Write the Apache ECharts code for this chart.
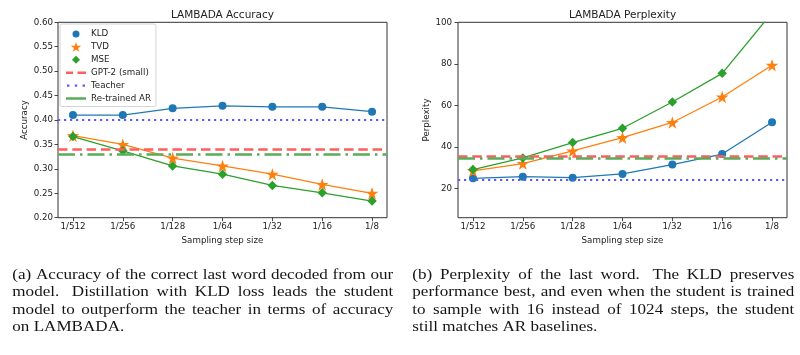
<!DOCTYPE html>
<html><head><meta charset="utf-8">
<script src="https://cdn.jsdelivr.net/npm/echarts@6/dist/echarts.min.js"></script>
<style>html,body{margin:0;padding:0;background:#fff}#c{width:800px;height:355px}</style>
</head><body><div id="c"></div>
<script>
// ---- data ----
const categories = ['1/512', '1/256', '1/128', '1/64', '1/32', '1/16', '1/8'];
const accKLD = [0.410, 0.410, 0.424, 0.429, 0.427, 0.427, 0.417];
const accTVD = [0.368, 0.350, 0.322, 0.306, 0.289, 0.268, 0.250];
const accMSE = [0.366, 0.337, 0.306, 0.289, 0.266, 0.251, 0.234];
const accGPT2 = 0.337, accTeacher = 0.400, accRetrained = 0.329;
const pplKLD = [24.8, 25.6, 25.1, 26.9, 31.4, 36.5, 51.8];
const pplTVD = [28.4, 31.9, 38.0, 44.4, 51.7, 64.0, 79.3];
const pplMSE = [29.0, 34.6, 42.0, 48.9, 61.6, 75.4, 104.6];
const pplGPT2 = 35.5, pplTeacher = 24.3, pplRetrained = 34.5;
const accTicks = [0.20, 0.25, 0.30, 0.35, 0.40, 0.45, 0.50, 0.55, 0.60];
const pplTicks = [20, 40, 60, 80, 100];
const titles = ['LAMBADA Accuracy', 'LAMBADA Perplexity'];
const yNames = ['Accuracy', 'Perplexity'];
const xName = 'Sampling step size';
const captionA = [
  '(a) Accuracy of the correct last word decoded from our',
  'model.  Distillation with KLD loss leads the student',
  'model to outperform the teacher in terms of accuracy',
  'on LAMBADA.'
];
const captionB = [
  '(b) Perplexity of the last word.  The KLD preserves',
  'performance best, and even when the student is trained',
  'to sample with 16 instead of 1024 steps, the student',
  'still matches AR baselines.'
];

// ---- styles ----
const C_BLUE = '#1f77b4', C_ORANGE = '#ff7f0e', C_GREEN = '#2ca02c';
const C_RED_B = '#ff5e5e', C_BLUE_B = '#5a5aff', C_GREEN_B = '#5aac5a';
const SANS = '"DejaVu Sans", sans-serif';
const TXT = '#222';
const FS = 8.7;

function starPath(cx, cy, R, r) {
  let d = '';
  for (let k = 0; k < 10; k++) {
    const a = -Math.PI / 2 + k * Math.PI / 5;
    const rad = k % 2 === 0 ? R : r;
    d += (k === 0 ? 'M' : 'L') + (cx + rad * Math.cos(a)).toFixed(3) + ' ' + (cy + rad * Math.sin(a)).toFixed(3) + ' ';
  }
  return d + 'Z';
}
const STAR = 'path://' + starPath(12, 12, 12, 4.7);
// legend icons: frame 20x10 (same as itemWidth x itemHeight)
const ICON_CIRCLE = 'path://M0 0 M20 10 M6.5 5 A3.5 3.5 0 1 0 13.5 5 A3.5 3.5 0 1 0 6.5 5 Z';
const ICON_STAR = 'path://M0 0 M20 10 ' + starPath(10, 5.4, 5.6, 2.2);
const ICON_DIAMOND = 'path://M0 0 M20 10 M10 1 L14 5 L10 9 L6 5 Z';
const ICON_DASH = 'path://M0 0 M20 10 M0 3.75 L7 3.75 L7 6.25 L0 6.25 Z M11.5 3.75 L20 3.75 L20 6.25 L11.5 6.25 Z';
const ICON_DOT = 'path://M0 0 M20 10 M1 3.8 L3.4 3.8 L3.4 6.2 L1 6.2 Z M8.8 3.8 L11.2 3.8 L11.2 6.2 L8.8 6.2 Z M16.6 3.8 L19 3.8 L19 6.2 L16.6 6.2 Z';
const ICON_SOLID = 'path://M0 0 M20 10 M0 3.75 L20 3.75 L20 6.25 L0 6.25 Z';

const grids = [
  {left: 58, top: 22.3, width: 329, height: 195.4, show: true, borderColor: '#333', borderWidth: 1, backgroundColor: 'transparent'},
  {left: 458, top: 22.3, width: 329, height: 195.4, show: true, borderColor: '#333', borderWidth: 1, backgroundColor: 'transparent'}
];

const idx = categories.map((c, i) => i);

function xAxis(g) {
  return {
    type: 'value', gridIndex: g, min: -0.3, max: 6.3,
    name: xName, nameLocation: 'middle', nameGap: 18,
    nameTextStyle: {fontFamily: SANS, fontSize: FS, color: TXT},
    axisLine: {show: false, onZero: false},
    splitLine: {show: false},
    axisTick: {show: true, length: 3.5, customValues: idx, lineStyle: {color: '#333', width: 0.9}},
    axisLabel: {customValues: idx, formatter: v => categories[Math.round(v)], fontFamily: SANS, fontSize: FS, color: TXT, margin: 5}
  };
}
const yAxes = [
  {
    type: 'value', gridIndex: 0, min: 0.2, max: 0.6,
    name: yNames[0], nameLocation: 'middle', nameGap: 28.5, nameRotate: 90,
    nameTextStyle: {fontFamily: SANS, fontSize: FS, color: TXT},
    axisLine: {show: false, onZero: false}, splitLine: {show: false},
    axisTick: {show: true, length: 3.5, customValues: accTicks, lineStyle: {color: '#333', width: 0.9}},
    axisLabel: {customValues: accTicks, formatter: v => v.toFixed(2), fontFamily: SANS, fontSize: FS, color: TXT, margin: 5}
  },
  {
    type: 'value', gridIndex: 1, min: 5.8, max: 100,
    name: yNames[1], nameLocation: 'middle', nameGap: 27, nameRotate: 90,
    nameTextStyle: {fontFamily: SANS, fontSize: FS, color: TXT},
    axisLine: {show: false, onZero: false}, splitLine: {show: false},
    axisTick: {show: true, length: 3.5, customValues: pplTicks, lineStyle: {color: '#333', width: 0.9}},
    axisLabel: {customValues: pplTicks, formatter: v => String(Math.round(v)), fontFamily: SANS, fontSize: FS, color: TXT, margin: 6}
  }
];

function dataSeries(name, vals, g, color, symbol, size) {
  return {
    name, type: 'line', xAxisIndex: g, yAxisIndex: g,
    data: vals.map((v, i) => [i, v]),
    symbol, symbolSize: size, showSymbol: true, clip: true,
    lineStyle: {color, width: 1.3}, itemStyle: {color},
    emphasis: {disabled: true}, animation: false, z: 3
  };
}
function baseSeries(name, val, g, color, dash, width) {
  return {
    name, type: 'line', xAxisIndex: g, yAxisIndex: g, data: [],
    symbol: 'none', showSymbol: false,
    lineStyle: {color, width, type: dash}, itemStyle: {color},
    markLine: {
      silent: true, symbol: ['none', 'none'], label: {show: false}, animation: false,
      lineStyle: {color, width, type: dash}, emphasis: {disabled: true},
      data: [{yAxis: val}]
    },
    animation: false, z: 4
  };
}

const DASH_RED = [9.5, 4.8], DOT_BLUE = [2.2, 3.8], DASHDOT_GREEN = [17, 5, 2.5, 5];
const series = [];
[[accKLD, accTVD, accMSE, accGPT2, accTeacher, accRetrained], [pplKLD, pplTVD, pplMSE, pplGPT2, pplTeacher, pplRetrained]].forEach((s, g) => {
  series.push(dataSeries('KLD', s[0], g, C_BLUE, 'circle', 8));
  series.push(dataSeries('TVD', s[1], g, C_ORANGE, STAR, 12.5));
  series.push(dataSeries('MSE', s[2], g, C_GREEN, 'diamond', 9.5));
  series.push(baseSeries('GPT-2 (small)', s[3], g, C_RED_B, DASH_RED, 2.5));
  series.push(baseSeries('Teacher', s[4], g, C_BLUE_B, DOT_BLUE, 2.2));
  series.push(baseSeries('Re-trained AR', s[5], g, C_GREEN_B, DASHDOT_GREEN, 2.5));
});

// ---- captions (justified, serif) ----
const CAP_FS = 14, CAP_SX = 1.22, SERIF = '"Liberation Serif", "Times New Roman", serif';
const mctx = document.createElement('canvas').getContext('2d');
mctx.font = CAP_FS + 'px ' + SERIF;
function captionEls(lines, x0, x1, mids) {
  const els = [];
  const spaceW = mctx.measureText(' ').width * CAP_SX;
  lines.forEach((line, li) => {
    const words = line.split(/\s+/);
    const ws = words.map(w => mctx.measureText(w).width * CAP_SX);
    const weights = words.slice(0, -1).map((w, i) => (/\.$/.test(w) && line.indexOf(w + '  ') >= 0) ? 1.6 : 1);
    const total = ws.reduce((a, b) => a + b, 0);
    const wsum = weights.reduce((a, b) => a + b, 0);
    const justify = li < lines.length - 1;
    const unit = justify ? (x1 - x0 - total) / wsum : spaceW;
    let x = x0;
    words.forEach((w, i) => {
      els.push({
        type: 'text', x, y: mids[li], scaleX: CAP_SX, silent: true,
        style: {text: w, font: CAP_FS + 'px ' + SERIF, fill: '#151515', align: 'left', verticalAlign: 'middle'}
      });
      x += ws[i] + (i < weights.length ? unit * weights[i] : 0);
    });
  });
  return els;
}
const mids = [275.4, 292.7, 310, 327.2];
const graphics = captionEls(captionA, 12.3, 393.3, mids).concat(captionEls(captionB, 412.3, 794.3, mids));

const option = {
  animation: false,
  backgroundColor: '#fff',
  title: [
    {text: titles[0], left: 222.5, top: 9.5, padding: 0, textAlign: 'center', textStyle: {fontFamily: SANS, fontSize: 10.5, fontWeight: 'normal', color: TXT}},
    {text: titles[1], left: 622.5, top: 9.5, padding: 0, textAlign: 'center', textStyle: {fontFamily: SANS, fontSize: 10.5, fontWeight: 'normal', color: TXT}}
  ],
  legend: {
    orient: 'vertical', left: 60, top: 24,
    padding: [5, 5, 3, 6], itemWidth: 20, itemHeight: 10, itemGap: 2.9,
    backgroundColor: 'rgba(255,255,255,0.85)', borderColor: '#d4d4d4', borderWidth: 1, borderRadius: 2,
    selectedMode: false,
    textStyle: {fontFamily: SANS, fontSize: FS, color: TXT, lineHeight: 10},
    data: [
      {name: 'KLD', icon: ICON_CIRCLE},
      {name: 'TVD', icon: ICON_STAR},
      {name: 'MSE', icon: ICON_DIAMOND},
      {name: 'GPT-2 (small)', icon: ICON_DASH},
      {name: 'Teacher', icon: ICON_DOT},
      {name: 'Re-trained AR', icon: ICON_SOLID}
    ]
  },
  grid: grids,
  xAxis: [xAxis(0), xAxis(1)],
  yAxis: yAxes,
  series,
  graphic: graphics
};
const chart = echarts.init(document.getElementById('c'), null, {renderer: 'canvas'});
chart.setOption(option);
</script>
</body></html>
